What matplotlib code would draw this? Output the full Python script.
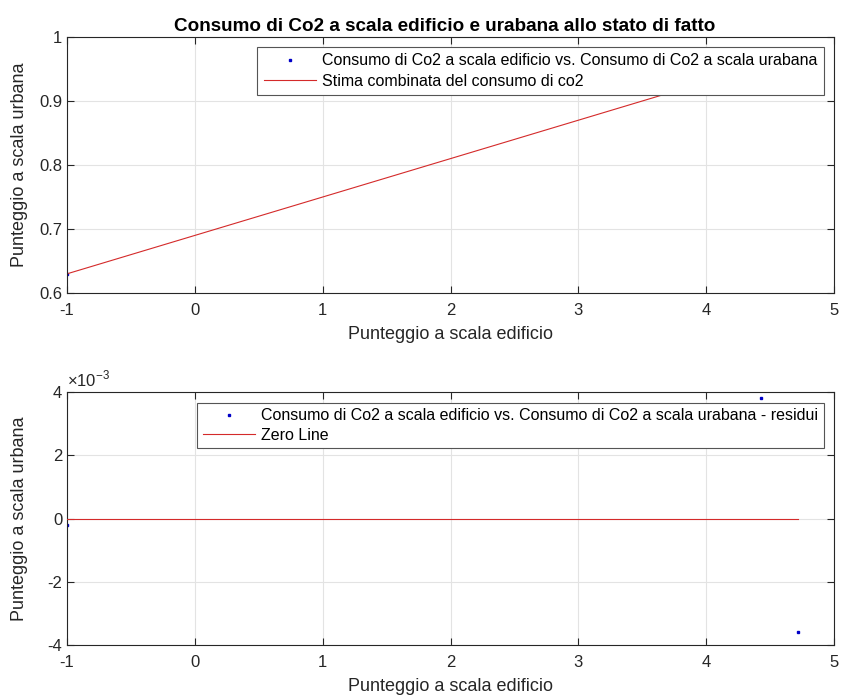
import numpy as np
import matplotlib.pyplot as plt
from matplotlib.ticker import FuncFormatter

plt.rcParams['font.family'] = ['Liberation Sans', 'DejaVu Sans']
plt.rcParams['mathtext.fontset'] = 'custom'
plt.rcParams['mathtext.rm'] = 'Liberation Sans'
plt.rcParams['axes.unicode_minus'] = False

# punteggi misurati
punteggio_edificio = np.array([-1.0, 4.43, 4.72])
punteggio_urbano = np.array([0.6298, 0.9596, 0.9696])

lbl_dati = 'Consumo di Co2 a scala edificio vs. Consumo di Co2 a scala urabana'
lbl_fit = 'Stima combinata del consumo di co2'
lbl_res = 'Consumo di Co2 a scala edificio vs. Consumo di Co2 a scala urabana - residui'
lbl_zero = 'Zero Line'

coef = np.polyfit(punteggio_edificio, punteggio_urbano, 1)
stima = np.polyval(coef, punteggio_edificio)
residui = punteggio_urbano - stima

grigio = '#262626'
blu = '#0000c8'
rosso = '#d42a2a'


def stile(ax):
    ax.grid(True, color='#e3e3e3', lw=0.8)
    ax.set_axisbelow(True)
    ax.tick_params(direction='in', top=True, right=True, labelsize=12,
                   colors=grigio, length=5)
    ax.tick_params(axis='x', pad=7)
    for s in ax.spines.values():
        s.set_color(grigio)
        s.set_linewidth(0.8)
    ax.set_xlim(-1, 5)
    ax.set_xticks(range(-1, 6))
    ax.set_xlabel('Punteggio a scala edificio', fontsize=13, color=grigio,
                  labelpad=6)
    ax.set_ylabel('Punteggio a scala urbana', fontsize=13, color=grigio)
    ax.yaxis.set_label_coords(-0.051, 0.5)


def legenda(ax, top, bp, ls):
    leg = ax.legend(loc='upper right', bbox_to_anchor=(0.987, top), fontsize=11.55,
                    fancybox=False, framealpha=1, edgecolor='#555555',
                    borderaxespad=0, borderpad=bp, labelspacing=ls,
                    handlelength=3.25, handletextpad=0.4)
    leg.get_frame().set_linewidth(0.8)
    return leg


fig = plt.figure(figsize=(8.44, 6.98), dpi=100)
ax1 = fig.add_axes([0.0794, 0.5802, 0.9088, 0.3668])
ax2 = fig.add_axes([0.0794, 0.0759, 0.9088, 0.3625])

# grafico superiore: dati e retta stimata
ax1.plot(punteggio_edificio, punteggio_urbano, 's', color=blu, ms=2,
         label=lbl_dati)
xs = np.array([punteggio_edificio.min(), punteggio_edificio.max()])
ax1.plot(xs, np.polyval(coef, xs), '-', color=rosso, lw=0.8, label=lbl_fit)
stile(ax1)
ax1.set_ylim(0.6, 1.0)
ax1.set_yticks([0.6, 0.7, 0.8, 0.9, 1.0])
ax1.set_yticklabels(['0.6', '0.7', '0.8', '0.9', '1'])
ax1.set_title('Consumo di Co2 a scala edificio e urabana allo stato di fatto',
              fontsize=13.6, fontweight='bold', color='black', pad=4, x=0.492)
legenda(ax1, 0.961, 0.4, 0.35)

# grafico inferiore: residui
ax2.plot(punteggio_edificio, residui, 's', color=blu, ms=2, label=lbl_res)
ax2.plot(xs, [0, 0], '-', color=rosso, lw=0.8, label=lbl_zero, zorder=3)
stile(ax2)
ax2.set_ylim(-4e-3, 4e-3)
ax2.set_yticks([-4e-3, -2e-3, 0, 2e-3, 4e-3])
ax2.yaxis.set_major_formatter(FuncFormatter(lambda v, _: f'{v * 1e3:g}'))
ax2.text(0.0, 1.01, r'$\times$10$^{-3}$', transform=ax2.transAxes,
         fontsize=12, color=grigio, ha='left', va='bottom')
legenda(ax2, 0.957, 0.35, 0.25)

fig.savefig('out.png', dpi=100)
